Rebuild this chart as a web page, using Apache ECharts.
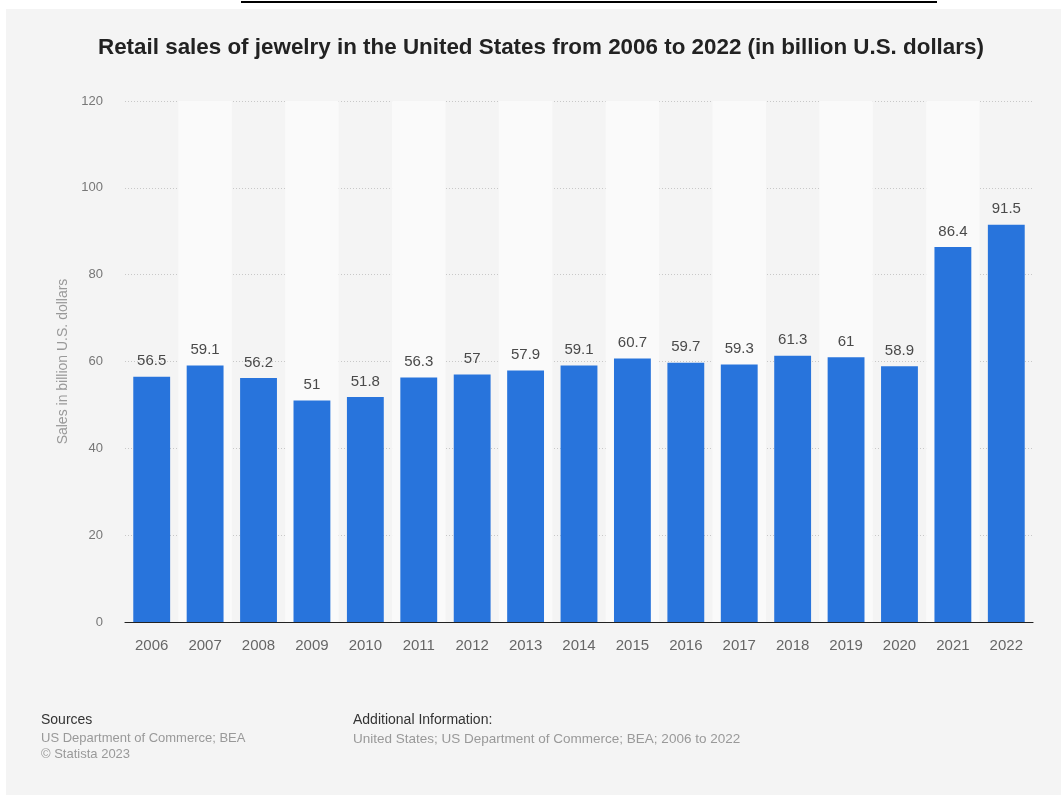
<!DOCTYPE html>
<html>
<head>
<meta charset="utf-8">
<script src="https://cdn.jsdelivr.net/npm/echarts@6/dist/echarts.min.js"></script>
<style>
html,body{margin:0;padding:0;background:#fff;}
#c{width:1061px;height:795px;}
</style>
</head>
<body>
<div id="c"></div>
<script>
const categories = ['2006','2007','2008','2009','2010','2011','2012','2013','2014','2015','2016','2017','2018','2019','2020','2021','2022'];
const salesValues = [56.5, 59.1, 56.2, 51, 51.8, 56.3, 57, 57.9, 59.1, 60.7, 59.7, 59.3, 61.3, 61, 58.9, 86.4, 91.5];
const yTicks = { min: 0, max: 120, interval: 20 };

const FONT = 'Liberation Sans, Arial, Helvetica, sans-serif';
const chart = echarts.init(document.getElementById('c'), null, { renderer: 'canvas' });
chart.setOption({
  backgroundColor: '#f4f4f4',
  animation: false,
  textStyle: { fontFamily: FONT },
  title: {
    text: 'Retail sales of jewelry in the United States from 2006 to 2022 (in billion U.S. dollars)',
    left: 93,
    top: 32,
    textStyle: { fontFamily: FONT, fontSize: 22.4, fontWeight: 'bold', color: '#222' }
  },
  grid: { left: 125, right: 28, top: 101, bottom: 173, containLabel: false },
  xAxis: {
    type: 'category',
    data: categories,
    axisLine: { show: true, lineStyle: { color: '#222', width: 1.2 } },
    axisTick: { show: false },
    axisLabel: { fontSize: 15, color: '#666', margin: 16, fontFamily: FONT },
    splitArea: { show: true, areaStyle: { color: ['rgba(0,0,0,0)', '#fafafa'] } }
  },
  yAxis: {
    type: 'value',
    min: yTicks.min, max: yTicks.max, interval: yTicks.interval,
    name: 'Sales in billion U.S. dollars',
    nameLocation: 'middle',
    nameGap: 55,
    nameTextStyle: { fontSize: 14, color: '#999', fontFamily: FONT },
    axisLine: { show: false },
    axisTick: { show: false },
    axisLabel: { fontSize: 13, color: '#777', margin: 22, fontFamily: FONT },
    splitLine: { show: true, lineStyle: { color: '#c8c8c8', type: [1, 2], width: 1 } }
  },
  series: [{
    type: 'bar',
    data: salesValues,
    barWidth: '69%',
    itemStyle: { color: '#2874dc' },
    label: {
      show: true, position: 'top', distance: 8,
      fontSize: 15, color: '#4a4a4a', fontFamily: FONT
    }
  }],
  graphic: [
    { type: 'rect', shape: { x: 0, y: 0, width: 1061, height: 9 }, style: { fill: '#ffffff' }, silent: true },
    { type: 'rect', shape: { x: 0, y: 0, width: 6, height: 795 }, style: { fill: '#ffffff' }, silent: true },
    { type: 'line', shape: { x1: 241, y1: 2, x2: 937, y2: 2 }, style: { stroke: '#000', lineWidth: 2 }, silent: true },
    { type: 'text', left: 41, top: 713, style: { text: 'Sources', fontSize: 14, fill: '#333', fontFamily: FONT } },
    { type: 'text', left: 41, top: 732, style: { text: 'US Department of Commerce; BEA', fontSize: 13, fill: '#999', fontFamily: FONT } },
    { type: 'text', left: 41, top: 748, style: { text: '\u00A9 Statista 2023', fontSize: 13, fill: '#999', fontFamily: FONT } },
    { type: 'text', left: 353, top: 713, style: { text: 'Additional Information:', fontSize: 14, fill: '#333', fontFamily: FONT } },
    { type: 'text', left: 353, top: 732, style: { text: 'United States; US Department of Commerce; BEA; 2006 to 2022', fontSize: 13.5, fill: '#999', fontFamily: FONT } }
  ]
});
</script>
</body>
</html>
